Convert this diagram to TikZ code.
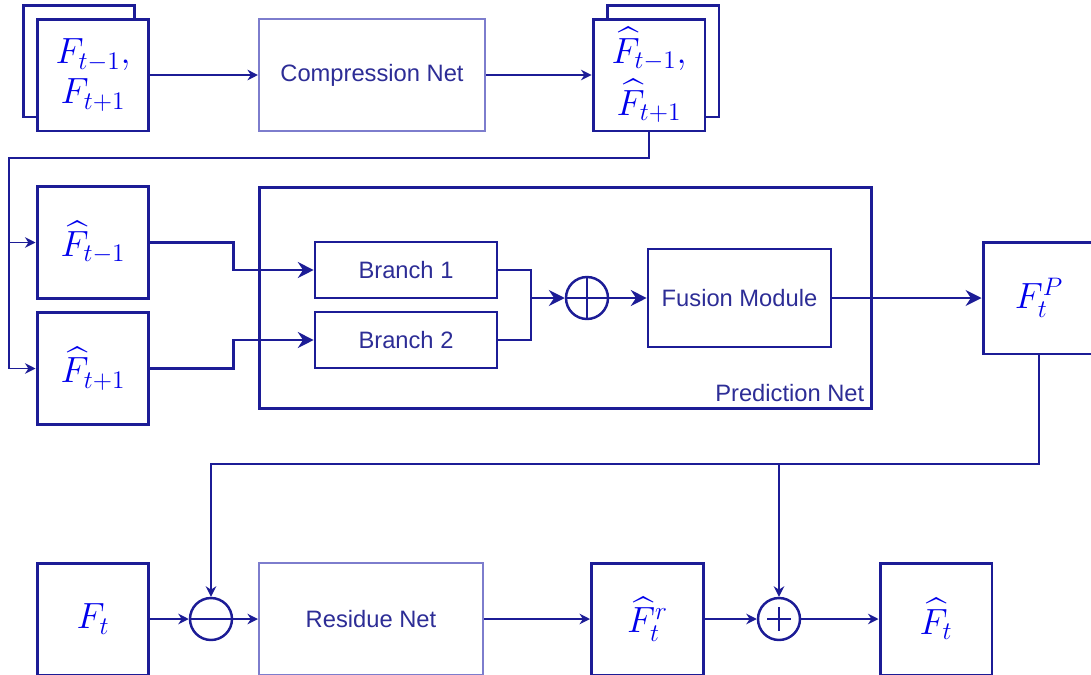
\documentclass[tikz,border=0pt]{standalone}
\usepackage{amsmath}
\usepackage{fontspec}
\setsansfont{Liberation Sans}
\usetikzlibrary{arrows.meta,calc}

\definecolor{navy}{RGB}{28,28,150}
\definecolor{mathblue}{RGB}{0,0,235}
\definecolor{lightnavy}{RGB}{125,125,205}
\definecolor{textnavy}{RGB}{45,45,150}

\begin{document}
\begin{tikzpicture}[x=0.02cm,y=-0.02cm,
    frame/.style={draw=navy,line width=1.7pt,fill=white,minimum width=2.24cm,minimum height=2.24cm,inner sep=0pt,text=mathblue,font=\fontsize{19.5}{23}\selectfont,align=center},
    netbox/.style={draw=lightnavy,line width=1.2pt,fill=white,minimum height=2.24cm,text=textnavy,font=\sffamily\fontsize{13.5}{16}\selectfont},
    blk/.style={draw=navy,line width=1.5pt,minimum height=1.12cm,text=textnavy,font=\sffamily\fontsize{13.5}{16}\selectfont},
    sumnode/.style={draw=navy,line width=1.4pt,circle,minimum size=0.84cm,inner sep=0pt},
    thinarr/.style={navy,line width=0.8pt,-{Stealth[length=6pt,width=6pt]}},
    thickarr/.style={navy,line width=1.6pt,-{Stealth[length=9pt,width=9pt]}}]
            \useasboundingbox (0,0) rectangle (1091,674);

            \node[frame] (inAback) at (79,61) {};
            \node[frame] (inA) at (93,75) {$F_{t-1},$\\$F_{t+1}$};
            \node[netbox,minimum width=4.52cm] (comp) at (372,75) {Compression Net};
            \node[frame] (outAback) at (663,61) {};
            \node[frame] (outA) at (649,75) {$\widehat{F}_{t-1},$\\[4pt]$\widehat{F}_{t+1}$};
            \draw[thinarr] (inA) -- (comp);
            \draw[thinarr] (comp) -- (outA);

            \node[frame] (hatm) at (93,242.5) {$\widehat{F}_{t-1}$};
            \node[frame] (hatp) at (93,368.5) {$\widehat{F}_{t+1}$};
            \coordinate (loop) at (9,158);
            \draw[thinarr] (outA.south) |- (loop) |- (hatm.west);
            \draw[thinarr] (loop) |- (hatp.west);

            \node[draw=navy,line width=1.7pt,minimum width=12.26cm,minimum height=4.44cm] (pred) at (565.5,298) {};
            \node[anchor=south east,inner sep=5pt,text=textnavy,font=\sffamily\fontsize{13.5}{16}\selectfont] (predlbl) at (pred.south east) {Prediction Net};
            \node[blk,minimum width=3.64cm] (br1) at (406,270) {Branch 1};
            \node[blk,minimum width=3.64cm] (br2) at (406,340) {Branch 2};
            \node[sumnode] (sum1) at (587,298) {};
            \draw[navy,line width=1.4pt] (sum1.north) -- (sum1.south) (sum1.west) -- (sum1.east);
            \node[blk,minimum width=3.66cm,minimum height=1.96cm] (fus) at (739.5,298) {Fusion Module};
            \node[frame] (ftp) at (1039,298) {$F_t^P$};

            \draw[thickarr] (hatm.east) -- ++(83,0) |- (br1.west);
            \draw[thickarr] (hatp.east) -- ++(83,0) |- (br2.west);
            \coordinate (join) at (531,298);
            \draw[navy,line width=1.6pt] (br1.east) -| (join) |- (br2.east);
            \draw[thickarr] (join) -- (sum1);
            \draw[thickarr] (sum1) -- (fus);
            \draw[thickarr] (fus) -- (ftp);

            \node[frame] (ft) at (93,619) {$F_t$};
            \node[sumnode] (sub) at (211,619) {};
            \draw[navy,line width=1.4pt] (sub.west) -- (sub.east);
            \node[netbox,minimum width=4.48cm] (res) at (371,619) {Residue Net};
            \node[frame] (fr) at (647.5,619) {$\widehat{F}_t^r$};
            \node[sumnode] (sum2) at (779,619) {};
            \draw[navy,line width=1.4pt] ($(sum2)+(-12,0)$) -- ($(sum2)+(12,0)$) ($(sum2)+(0,-12)$) -- ($(sum2)+(0,12)$);
            \node[frame] (fhat) at (936,619) {$\widehat{F}_t$};

            \draw[thinarr] (ft) -- (sub);
            \draw[thinarr] (sub) -- (res);
            \draw[thinarr] (res) -- (fr);
            \draw[thinarr] (fr) -- (sum2);
            \draw[thinarr] (sum2) -- (fhat);
            \coordinate (fb) at (211,464);
            \draw[thinarr] (ftp.south) |- (fb) -- (sub.north);
            \draw[thinarr] (sum2 |- fb) -- (sum2.north);
        \end{tikzpicture}
\end{document}
